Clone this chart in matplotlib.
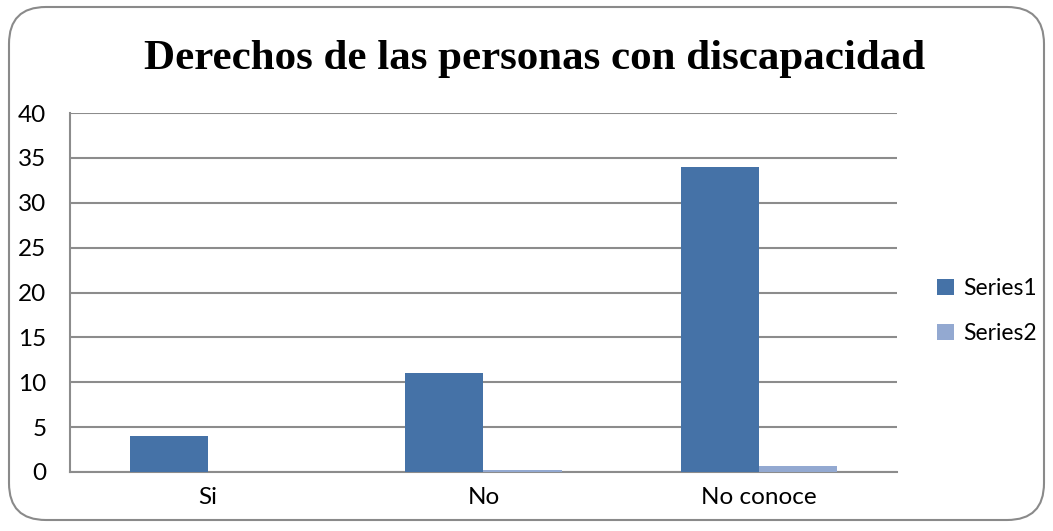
import matplotlib
matplotlib.use("Agg")
import matplotlib.pyplot as plt
from matplotlib.patches import FancyBboxPatch
import numpy as np

categories = ["Si", "No", "No conoce"]
series1 = [4, 11, 34]
series2 = [0.0, 0.2, 0.7]
series_names = ["Series1", "Series2"]
yticks = [0, 5, 10, 15, 20, 25, 30, 35, 40]

W, H = 1053, 531
fig = plt.figure(figsize=(W / 100, H / 100), dpi=100)
fig.patch.set_facecolor("white")

# rounded outer border
border = FancyBboxPatch((9 / W, 11 / H), (1044 - 9) / W, (524 - 11) / H,
                        boxstyle="round,pad=0,rounding_size=0.035",
                        transform=fig.transFigure, facecolor="none",
                        edgecolor="#8a8a8a", linewidth=1.5, mutation_aspect=W / H)
fig.patches.append(border)

ax = fig.add_axes([70 / W, 1 - 472 / H, (897 - 70) / W, (472 - 113) / H])

x = np.arange(len(categories))
bw = 0.283
c1, c2 = "#4572A7", "#93A9D1"
ax.bar(x - bw, series1, width=bw, align="edge", color=c1, label=series_names[0], zorder=3)
ax.bar(x, series2, width=bw, align="edge", color=c2, label=series_names[1], zorder=3)

ax.set_xlim(-0.5, 2.5)
ax.set_ylim(0, 40)
ax.set_yticks(yticks)
ax.set_xticks(x)
ax.set_xticklabels(categories)
ax.yaxis.grid(True, color="#8c8c8c", linewidth=1.5, zorder=0)
ax.set_axisbelow(True)
for s in ["top", "right"]:
    ax.spines[s].set_visible(False)
ax.spines["left"].set_color("#8c8c8c")
ax.spines["left"].set_linewidth(1.5)
ax.spines["bottom"].set_color("#8c8c8c")
ax.spines["bottom"].set_linewidth(1.5)
ax.tick_params(axis="both", length=0, labelsize=17.5)
ax.tick_params(axis="x", pad=11)
ax.tick_params(axis="y", pad=17)
for lab in ax.get_xticklabels() + ax.get_yticklabels():
    lab.set_fontfamily("Lato")

fig.text(0.5 * (1070) / W, 1 - 59 / H, "Derechos de las personas con discapacidad",
         ha="center", va="center", fontsize=31, fontweight="bold",
         fontfamily="Liberation Serif")

leg = ax.legend(loc="center left", bbox_to_anchor=((937 - 70) / 827, (472 - 311) / 359),
                frameon=False, prop={"family": "Lato", "size": 16.5},
                handlelength=0.75, handleheight=0.75, handletextpad=0.4,
                labelspacing=1.05, borderpad=0, borderaxespad=0)

fig.savefig("out.png", dpi=100, facecolor="white")
